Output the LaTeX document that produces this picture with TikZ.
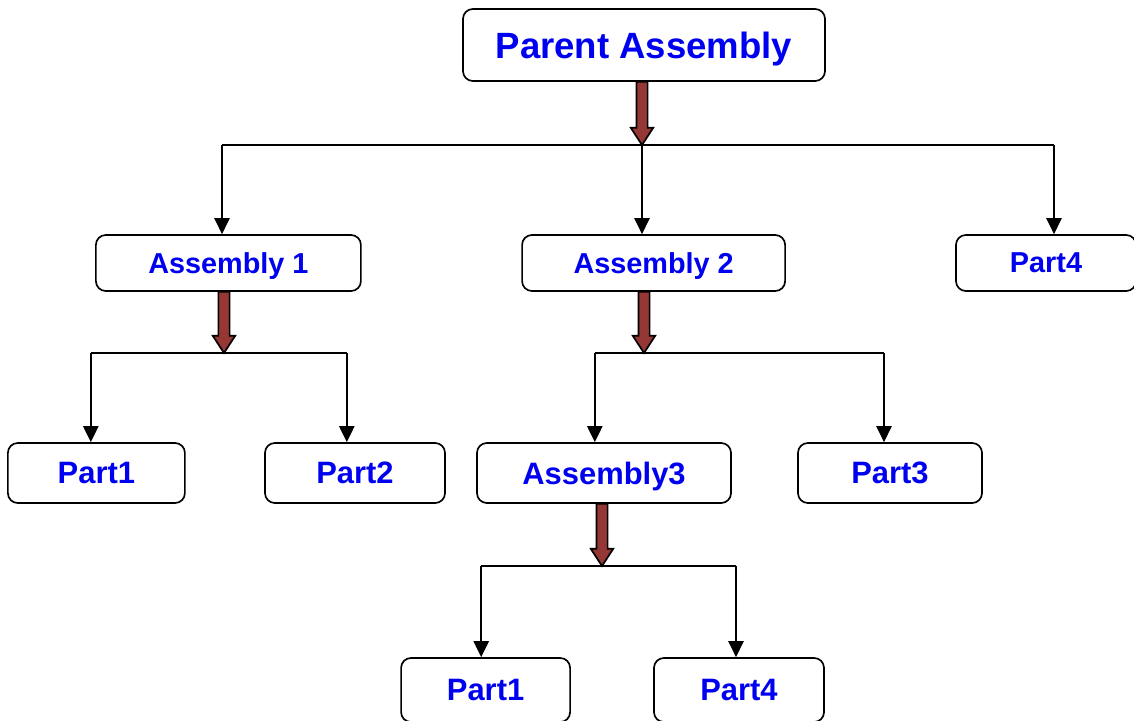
\documentclass[tikz,border=0pt]{standalone}
\usepackage{fontspec}
\setmainfont{Liberation Sans}
\usepackage{tikz}
\usetikzlibrary{arrows.meta, calc, positioning}

\definecolor{brownred}{HTML}{953735}
\definecolor{textblue}{HTML}{0000F0}

% thick brown arrow: #1 tail, #2 tip
\newcommand{\fatarrow}[2]{%
	\draw[fatarr] ($(#1)+(-0.14,0)$) -- ($(#2)+(-0.14,0.43)$) -- ++(-0.14,0) -- (#2)
		-- ++(0.28,0.43) -- ++(-0.14,0) -- ($(#1)+(0.14,0)$) -- cycle;}

\begin{document}
\begin{tikzpicture}[scale=1,
		box/.style={draw, line width=1.2pt, rounded corners=7pt, text=textblue, inner sep=0pt, text depth=0pt},
		big/.style={font=\bfseries\fontsize{26}{30}\selectfont},
		mid/.style={font=\bfseries\fontsize{20.5}{24}\selectfont, minimum height=1.4cm},
		low/.style={font=\bfseries\fontsize{22}{26}\selectfont, minimum height=1.5cm},
		conn/.style={line width=1.2pt, -{Triangle[length=0.4cm,width=0.38cm]}},
		bus/.style={line width=1.2pt},
		fatarr/.style={fill=brownred, draw=black, line width=1.2pt, line join=miter}]
		\useasboundingbox (0,0) rectangle (28.35,-18);

		% Draw boxes
		\node[box, big, minimum width=9.05cm, minimum height=1.8cm] (parent) at (16.1,-1.125) {Parent Assembly};

		\node[box, mid, minimum width=6.625cm] (asm1) at (5.71,-6.575) {Assembly 1};
		\node[box, mid, minimum width=6.575cm] (asm2) at (16.34,-6.575) {Assembly 2};
		\node[box, mid, minimum width=4.5cm] (partfour) at (26.15,-6.575) {Part4};

		\node[box, low, minimum width=4.425cm] (partone) at (2.41,-11.825) {Part1};
		\node[box, low, minimum width=4.5cm] (parttwo) at (8.875,-11.825) {Part2};
		\node[box, low, minimum width=6.35cm] (asm3) at (15.1,-11.825) {Assembly3};
		\node[box, low, minimum width=4.6cm] (partthree) at (22.25,-11.825) {Part3};

		\node[box, low, minimum width=4.225cm, minimum height=1.6cm] (partoneb) at (12.14,-17.25) {Part1};
		\node[box, low, minimum width=4.25cm, minimum height=1.6cm] (partfourb) at (18.475,-17.25) {Part4};

		% Parent -> level 1
		\coordinate (j0) at (16.05,-3.625);
		\coordinate (j1) at (5.55,-3.625);
		\coordinate (j2) at (26.35,-3.625);
		\coordinate (t0) at (parent.south -| j0);
		\draw[bus] (j1) -- (j2);
		\fatarrow{t0}{j0}
		\draw[conn] (j1) -- (j1 |- asm1.north);
		\draw[conn] (j0) -- (j0 |- asm2.north);
		\draw[conn] (j2) -- (j2 |- partfour.north);

		% Assembly 1 -> parts
		\coordinate (k0) at (5.6,-8.825);
		\coordinate (k1) at (2.27,-8.825);
		\coordinate (k2) at (8.67,-8.825);
		\coordinate (t1) at (asm1.south -| k0);
		\draw[bus] (k1) -- (k2);
		\fatarrow{t1}{k0}
		\draw[conn] (k1) -- (k1 |- partone.north);
		\draw[conn] (k2) -- (k2 |- parttwo.north);

		% Assembly 2 -> level 2
		\coordinate (m0) at (16.1,-8.825);
		\coordinate (m1) at (14.87,-8.825);
		\coordinate (m2) at (22.1,-8.825);
		\coordinate (t2) at (asm2.south -| m0);
		\draw[bus] (m1) -- (m2);
		\fatarrow{t2}{m0}
		\draw[conn] (m1) -- (m1 |- asm3.north);
		\draw[conn] (m2) -- (m2 |- partthree.north);

		% Assembly3 -> parts
		\coordinate (n0) at (15.05,-14.15);
		\coordinate (n1) at (12.03,-14.15);
		\coordinate (n2) at (18.4,-14.15);
		\coordinate (t3) at (asm3.south -| n0);
		\draw[bus] (n1) -- (n2);
		\fatarrow{t3}{n0}
		\draw[conn] (n1) -- (n1 |- partoneb.north);
		\draw[conn] (n2) -- (n2 |- partfourb.north);
	\end{tikzpicture}
\end{document}
